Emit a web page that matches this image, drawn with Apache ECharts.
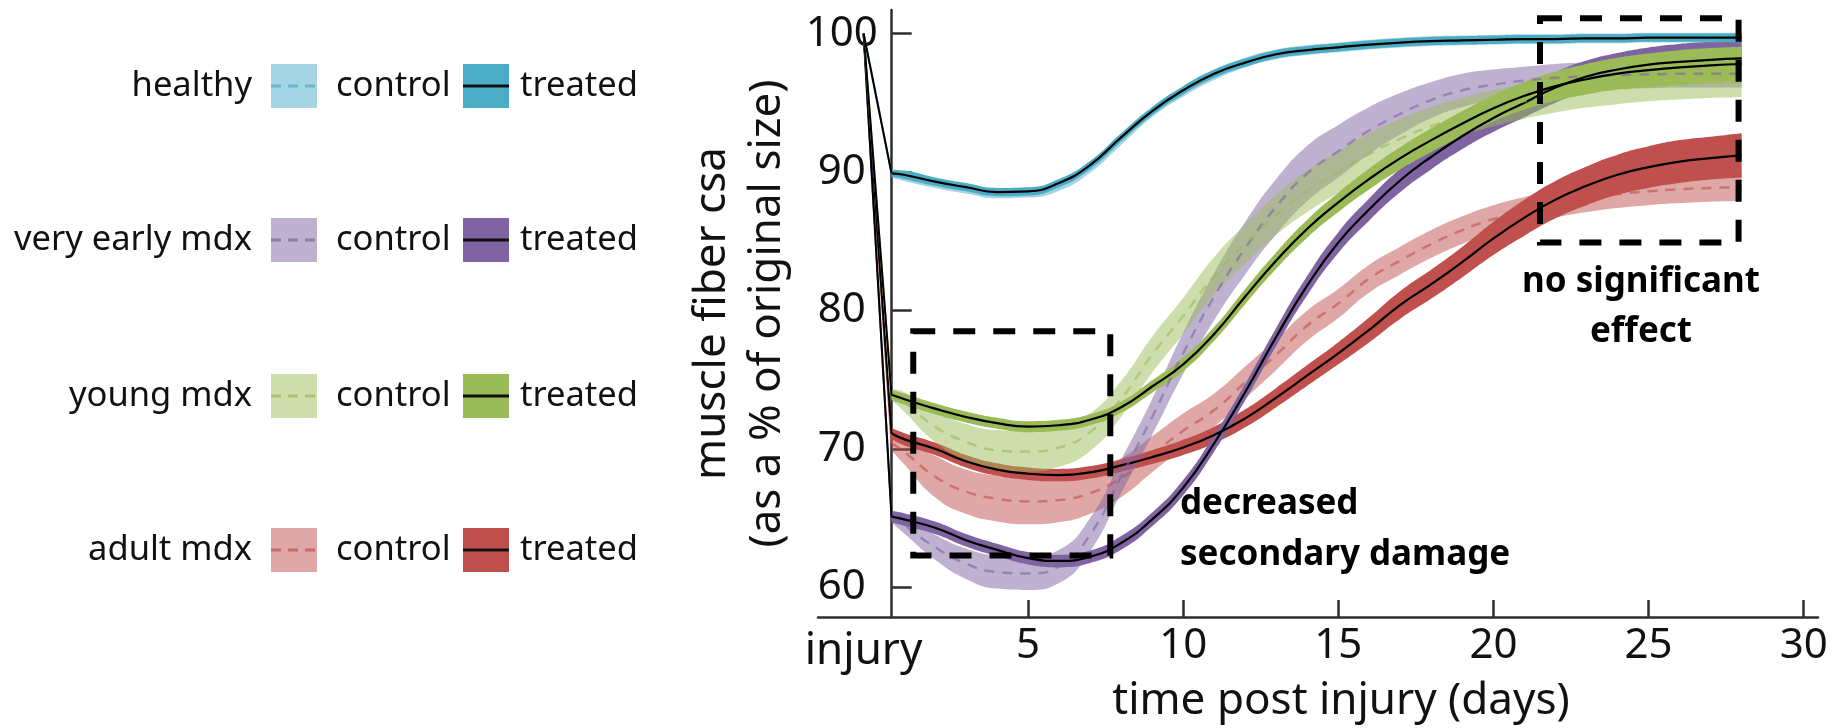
<!DOCTYPE html>
<html>
<head>
<meta charset="utf-8">
<script src="https://cdn.jsdelivr.net/npm/echarts@6/dist/echarts.min.js"></script>
<style>
    html, body {margin:0;padding:0;background:#fff;}
    #chart {width:1847px;height:728px;}
</style>
</head>
<body>
<div id="chart"></div>
<script>
    // time axis (days post injury) and the injury point
    var days = [0.6, 1, 2, 3, 4, 5, 6, 7, 8, 9, 10, 11, 12, 13, 14, 15, 16, 17, 18, 19, 20, 21, 22, 23, 24, 25, 26, 27, 28];
    var injuryDay = -0.3;
    var injuryValue = 100;
    var xTicks = [5, 10, 15, 20, 25, 30];
    var yTicks = [60, 70, 80, 90, 100];

    // mean curves and half-widths of the shaded bands
    var healthyControl = [89.9, 89.7, 89.2, 88.8, 88.45, 88.5, 89.0, 90.3, 92.3, 94.3, 95.8, 97.0, 97.9, 98.5, 98.8, 99.0, 99.2, 99.35, 99.45, 99.5, 99.55, 99.6, 99.6, 99.65, 99.65, 99.7, 99.7, 99.7, 99.7];
    var healthyControlSpread = [0.3, 0.35, 0.35, 0.35, 0.35, 0.35, 0.35, 0.35, 0.35, 0.35, 0.35, 0.35, 0.35, 0.35, 0.35, 0.35, 0.35, 0.35, 0.35, 0.35, 0.35, 0.35, 0.35, 0.35, 0.35, 0.35, 0.35, 0.35, 0.35];
    var healthyTreated = [89.9, 89.8, 89.3, 88.9, 88.55, 88.6, 89.2, 90.5, 92.5, 94.4, 95.9, 97.1, 97.9, 98.5, 98.8, 99.0, 99.2, 99.35, 99.45, 99.5, 99.55, 99.6, 99.6, 99.65, 99.65, 99.7, 99.7, 99.7, 99.7];
    var healthyTreatedSpread = [0.25, 0.3, 0.3, 0.3, 0.3, 0.3, 0.3, 0.3, 0.3, 0.3, 0.3, 0.3, 0.3, 0.3, 0.3, 0.3, 0.3, 0.3, 0.3, 0.3, 0.3, 0.3, 0.3, 0.3, 0.3, 0.3, 0.3, 0.3, 0.3];

    var veryEarlyControl = [65.1, 64.5, 62.9, 61.7, 61.1, 61.0, 61.5, 63.8, 68.0, 72.3, 76.9, 81.0, 84.5, 87.5, 89.9, 91.5, 93.0, 94.2, 95.2, 95.9, 96.3, 96.6, 96.8, 96.9, 97.0, 97.05, 97.1, 97.1, 97.1];
    var veryEarlyControlSpread = [0.4, 0.6, 0.9, 1.1, 1.2, 1.2, 1.2, 1.2, 1.2, 1.3, 1.5, 1.7, 1.9, 2.0, 2.0, 1.9, 1.7, 1.5, 1.3, 1.2, 1.1, 1.0, 1.0, 1.0, 1.0, 1.0, 1.0, 1.0, 1.0];
    var veryEarlyTreated = [65.1, 64.9, 64.3, 63.4, 62.7, 62.1, 61.9, 62.2, 63.2, 64.9, 67.2, 70.4, 74.1, 78.1, 81.8, 84.9, 87.3, 89.4, 91.1, 92.6, 93.9, 95.0, 96.1, 96.9, 97.4, 97.75, 97.95, 98.1, 98.2];
    var veryEarlyTreatedSpread = [0.4, 0.45, 0.45, 0.45, 0.45, 0.45, 0.45, 0.45, 0.5, 0.5, 0.55, 0.6, 0.6, 0.65, 0.7, 0.75, 0.8, 0.85, 0.9, 0.95, 1.0, 1.05, 1.1, 1.15, 1.2, 1.25, 1.3, 1.3, 1.3];

    var youngControl = [73.9, 73.4, 71.6, 70.5, 69.9, 69.8, 70.1, 71.2, 73.6, 76.8, 79.6, 82.5, 84.8, 86.9, 88.6, 90.0, 91.3, 92.4, 93.3, 94.0, 94.6, 95.1, 95.5, 95.8, 96.0, 96.2, 96.35, 96.45, 96.5];
    var youngControlSpread = [0.4, 0.7, 1.1, 1.3, 1.45, 1.45, 1.4, 1.35, 1.3, 1.3, 1.3, 1.35, 1.4, 1.45, 1.5, 1.5, 1.5, 1.45, 1.4, 1.35, 1.3, 1.25, 1.2, 1.15, 1.1, 1.1, 1.1, 1.1, 1.1];
    var youngTreated = [73.9, 73.6, 72.9, 72.3, 71.85, 71.6, 71.7, 72.1, 73.0, 74.5, 76.1, 78.3, 81.0, 83.6, 85.9, 87.8, 89.5, 91.0, 92.3, 93.5, 94.6, 95.5, 96.2, 96.7, 97.1, 97.35, 97.55, 97.7, 97.8];
    var youngTreatedSpread = [0.35, 0.4, 0.4, 0.4, 0.4, 0.4, 0.4, 0.4, 0.4, 0.45, 0.5, 0.5, 0.55, 0.6, 0.65, 0.7, 0.75, 0.8, 0.85, 0.9, 0.95, 1.0, 1.05, 1.1, 1.15, 1.2, 1.25, 1.25, 1.25];

    var adultControl = [70.4, 69.8, 68.0, 66.9, 66.4, 66.2, 66.3, 66.8, 67.9, 69.6, 71.3, 72.8, 74.8, 76.8, 78.9, 80.5, 82.3, 83.6, 84.8, 85.8, 86.6, 87.2, 87.7, 88.1, 88.4, 88.6, 88.75, 88.85, 88.9];
    var adultControlSpread = [0.5, 0.9, 1.5, 1.6, 1.65, 1.65, 1.6, 1.5, 1.4, 1.3, 1.25, 1.2, 1.15, 1.1, 1.1, 1.05, 1.0, 1.0, 1.0, 1.0, 1.0, 1.0, 1.0, 1.0, 1.0, 1.0, 1.0, 1.0, 1.0];
    var adultTreated = [71.1, 70.7, 70.0, 69.1, 68.5, 68.2, 68.1, 68.3, 68.8, 69.4, 70.1, 71.0, 72.2, 73.7, 75.3, 76.9, 78.6, 80.4, 81.9, 83.5, 85.2, 86.7, 88.0, 89.0, 89.8, 90.35, 90.75, 91.0, 91.2];
    var adultTreatedSpread = [0.4, 0.45, 0.45, 0.45, 0.45, 0.45, 0.45, 0.45, 0.45, 0.5, 0.55, 0.6, 0.65, 0.7, 0.75, 0.8, 0.9, 1.0, 1.05, 1.1, 1.2, 1.3, 1.35, 1.4, 1.45, 1.5, 1.55, 1.55, 1.6];

    // dashed boxes: [dayFrom, dayTo, valueLow, valueHigh]
    var boxDecreased = [1.3, 7.65, 62.3, 78.5];
    var boxNoEffect = [21.5, 27.9, 84.9, 101.1];

    var groupNames = ['healthy', 'very early mdx', 'young mdx', 'adult mdx'];
    var groupColors = ['#4bacc6', '#8064a2', '#9bbb59', '#c0504d'];

    var FONT = '"Noto Sans", "Open Sans", sans-serif';

    function pairs(values) {
        var out = [];
        for (var i = 0; i < days.length; i++) out.push([days[i], values[i]]);
        return out;
    }

    // band = invisible lower edge + stacked width; value first so the stack runs on y
    function band(id, mean, spread, color, opacity) {
        var low = [], width = [];
        for (var i = 0; i < days.length; i++) {
            low.push([mean[i] - spread[i], days[i]]);
            width.push([2 * spread[i], days[i]]);
        }
        return [
            {type: 'line', stack: id, data: low, encode: {x: 1, y: 0}, smooth: 0.5, symbol: 'none', silent: true,
                lineStyle: {opacity: 0}},
            {type: 'line', stack: id, data: width, encode: {x: 1, y: 0}, smooth: 0.5, symbol: 'none', silent: true,
                lineStyle: {opacity: 0}, areaStyle: {color: color, opacity: opacity}}
        ];
    }

    function meanLine(mean, lineStyle, dropColor) {
        return {
            type: 'line', data: pairs(mean), smooth: 0.5, symbol: 'none', silent: true,
            lineStyle: lineStyle,
            markLine: {
                silent: true, symbol: ['none', 'none'], label: {show: false},
                lineStyle: {color: dropColor, width: 2, type: 'solid', opacity: 1},
                data: [[{coord: [injuryDay, injuryValue]}, {coord: [days[0], mean[0]]}]]
            }
        };
    }

    function group(key, control, controlSpread, treated, treatedSpread, color) {
        var s = [];
        s = s.concat(band(key + 'C', control, controlSpread, color, 0.5));
        s.push(meanLine(control, {color: color, opacity: 0.6, width: 2.5, type: [10, 8]}, color));
        s = s.concat(band(key + 'T', treated, treatedSpread, color, 1));
        s.push(meanLine(treated, {color: '#000', width: 2.2}, '#000'));
        return s;
    }

    var series = [];
    series = series.concat(group('adult', adultControl, adultControlSpread, adultTreated, adultTreatedSpread, groupColors[3]));
    series = series.concat(group('early', veryEarlyControl, veryEarlyControlSpread, veryEarlyTreated, veryEarlyTreatedSpread, groupColors[1]));
    series = series.concat(group('young', youngControl, youngControlSpread, youngTreated, youngTreatedSpread, groupColors[2]));
    series = series.concat(group('healthy', healthyControl, healthyControlSpread, healthyTreated, healthyTreatedSpread, groupColors[0]));

    series[series.length - 1].markArea = {
        silent: true, z: 10,
        itemStyle: {color: 'rgba(0,0,0,0)', borderColor: '#000', borderWidth: 6, borderType: [22, 18]},
        data: [
            [{coord: [boxDecreased[0], boxDecreased[3]]}, {coord: [boxDecreased[1], boxDecreased[2]]}],
            [{coord: [boxNoEffect[0], boxNoEffect[3]]}, {coord: [boxNoEffect[1], boxNoEffect[2]]}]
        ]
    };

    // legend drawn as graphic rows
    var rowY = [86, 240, 396, 550];
    var graphic = [];
    for (var i = 0; i < groupNames.length; i++) {
        var y = rowY[i];
        graphic.push({type: 'text', style: {text: groupNames[i], x: 252, y: y, font: '34.5px ' + FONT, fill: '#111', align: 'right', textAlign: 'right', verticalAlign: 'middle', textVerticalAlign: 'middle'}});
        graphic.push({type: 'rect', shape: {x: 271, y: y - 22, width: 46, height: 44}, style: {fill: groupColors[i], opacity: 0.5}});
        graphic.push({type: 'line', shape: {x1: 271, y1: y, x2: 317, y2: y}, style: {stroke: groupColors[i], lineWidth: 3, lineDash: [10, 7], opacity: 0.7}});
        graphic.push({type: 'text', style: {text: 'control', x: 336, y: y, font: '34.5px ' + FONT, fill: '#111', align: 'left', textAlign: 'left', verticalAlign: 'middle', textVerticalAlign: 'middle'}});
        graphic.push({type: 'rect', shape: {x: 463, y: y - 22, width: 46, height: 44}, style: {fill: groupColors[i]}});
        graphic.push({type: 'line', shape: {x1: 463, y1: y, x2: 509, y2: y}, style: {stroke: '#111', lineWidth: 3}});
        graphic.push({type: 'text', style: {text: 'treated', x: 520, y: y, font: '34.5px ' + FONT, fill: '#111', align: 'left', textAlign: 'left', verticalAlign: 'middle', textVerticalAlign: 'middle'}});
    }
    graphic.push({type: 'text', style: {text: 'decreased\nsecondary damage', x: 1180, y: 479, font: 'bold 35px ' + FONT, lineHeight: 51, fill: '#000', align: 'left', textAlign: 'left', verticalAlign: 'top', textVerticalAlign: 'top'}});
    graphic.push({type: 'text', style: {text: 'no significant\neffect', x: 1641, y: 257, font: 'bold 35px ' + FONT, lineHeight: 50, fill: '#000', align: 'center', textAlign: 'center', verticalAlign: 'top', textVerticalAlign: 'top'}});

    var axisColor = '#2e2e2e';
    var chart = echarts.init(document.getElementById('chart'));
    chart.setOption({
        animation: false,
        backgroundColor: '#fff',
        textStyle: {fontFamily: FONT},
        grid: {left: 818, right: 29, top: 10, bottom: 111, containLabel: false},
        xAxis: [{
            type: 'value', min: -1.77, max: 30.46,
            name: 'time post injury (days)', nameLocation: 'middle', nameGap: 62,
            nameTextStyle: {fontSize: 44, color: '#111', fontFamily: FONT, padding: [0, 0, 0, 46]},
            axisLine: {onZero: false, lineStyle: {color: axisColor, width: 2.5}},
            axisTick: {inside: true, length: 17, customValues: xTicks, lineStyle: {color: axisColor, width: 2.5}},
            axisLabel: {customValues: xTicks, fontSize: 42, color: '#111', margin: 8, fontFamily: FONT},
            splitLine: {show: false}
        }, {
            type: 'value', min: -1.77, max: 30.46, position: 'bottom',
            axisLine: {show: false}, axisTick: {show: false}, splitLine: {show: false},
            axisLabel: {customValues: [injuryDay], fontSize: 44, color: '#111', margin: 12, fontFamily: FONT,
                formatter: function () { return 'injury'; }}
        }],
        yAxis: {
            type: 'value', min: 57.85, max: 101.7, offset: -73.7,
            name: 'muscle fiber csa\n(as a % of original size)', nameLocation: 'middle', nameRotate: 90, nameGap: 92,
            nameTextStyle: {fontSize: 44, lineHeight: 55, color: '#111', fontFamily: FONT},
            axisLine: {onZero: false, lineStyle: {color: axisColor, width: 2.5}},
            axisTick: {inside: true, length: 20, customValues: yTicks, lineStyle: {color: axisColor, width: 2.5}},
            axisLabel: {customValues: yTicks, fontSize: 42, color: '#111', align: 'center', margin: 50, fontFamily: FONT},
            splitLine: {show: false}
        },
        graphic: graphic,
        series: series
    });
</script>
</body>
</html>
